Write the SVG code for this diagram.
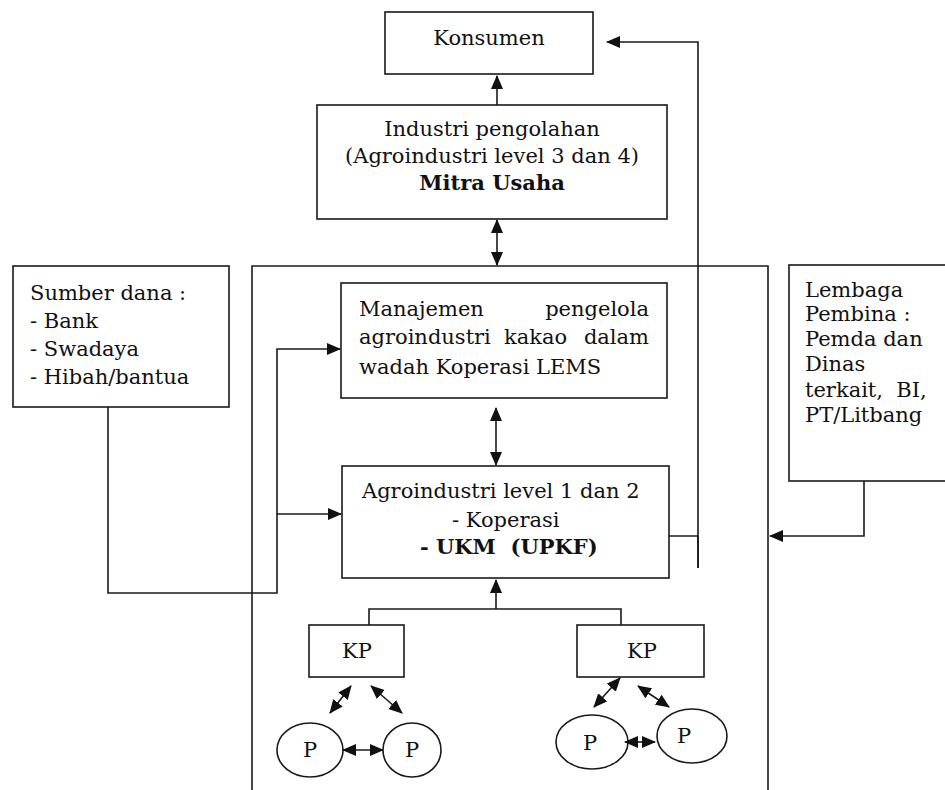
<svg xmlns="http://www.w3.org/2000/svg" width="945" height="790" viewBox="0 0 945 790">
<style>
.box{fill:#fff;stroke:#1a1a1a;stroke-width:1.6}
.ln{fill:none;stroke:#1a1a1a;stroke-width:1.6}
.t{font-family:"DejaVu Serif","Liberation Serif",serif;font-size:21px;fill:#111;white-space:pre}
.c{text-anchor:middle}
.b{font-weight:bold}
</style>
<defs>
<marker id="ah" markerUnits="userSpaceOnUse" markerWidth="14" markerHeight="14" viewBox="0 0 14 14" refX="13" refY="7" orient="auto-start-reverse">
<path d="M0,1 L14,7 L0,13 Z" fill="#111"/>
</marker>
</defs>
<rect width="945" height="790" fill="#fff"/>

<g id="container">
<path class="ln" d="M252,795 V266 H768 V795"/>
</g>

<g id="konsumen">
<rect class="box" x="385" y="12" width="208" height="62"/>
<text class="t c" x="489" y="45">Konsumen</text>
</g>

<g id="industri">
<rect class="box" x="317" y="105" width="350" height="114"/>
<text class="t c" x="492" y="136">Industri pengolahan</text>
<text class="t c" x="492" y="163">(Agroindustri level 3 dan 4)</text>
<text class="t c b" x="492" y="190">Mitra Usaha</text>
</g>

<g id="sumber">
<rect class="box" x="13" y="266" width="216" height="141"/>
<text class="t" x="30" y="300">Sumber dana :</text>
<text class="t" x="30" y="328">- Bank</text>
<text class="t" x="30" y="356">- Swadaya</text>
<text class="t" x="30" y="384">- Hibah/bantua</text>
</g>

<g id="manajemen">
<rect class="box" x="341" y="283" width="326" height="115"/>
<text class="t" x="359" y="316">Manajemen</text>
<text class="t" x="649" y="316" text-anchor="end">pengelola</text>
<text class="t" x="359" y="344">agroindustri</text>
<text class="t" x="504" y="344">kakao</text>
<text class="t" x="649" y="344" text-anchor="end">dalam</text>
<text class="t" x="359" y="374">wadah Koperasi LEMS</text>
</g>

<g id="lembaga">
<rect class="box" x="789" y="265" width="170" height="216"/>
<text class="t" x="805" y="297">Lembaga</text>
<text class="t" x="805" y="321">Pembina :</text>
<text class="t" x="805" y="346">Pemda dan</text>
<text class="t" x="805" y="371">Dinas</text>
<text class="t" x="805" y="397">terkait,  BI,</text>
<text class="t" x="805" y="422">PT/Litbang</text>
</g>

<g id="agro">
<rect class="box" x="342" y="466" width="327" height="112"/>
<text class="t" x="362" y="498">Agroindustri level 1 dan 2</text>
<text class="t" x="452" y="527">- Koperasi</text>
<text class="t b" x="420" y="554">- UKM  (UPKF)</text>
</g>

<g id="kp1">
<rect class="box" x="309" y="625" width="95" height="52"/>
<text class="t c" x="357" y="658">KP</text>
</g>
<g id="kp2">
<rect class="box" x="577" y="625" width="127" height="52"/>
<text class="t c" x="642" y="658">KP</text>
</g>

<g id="p1">
<ellipse class="box" cx="310" cy="750" rx="33" ry="27"/>
<text class="t c" x="310" y="757">P</text>
</g>
<g id="p2">
<ellipse class="box" cx="412" cy="750" rx="29" ry="27"/>
<text class="t c" x="412" y="757">P</text>
</g>
<g id="p3">
<ellipse class="box" cx="592" cy="742" rx="36" ry="27"/>
<text class="t c" x="590" y="750">P</text>
</g>
<g id="p4">
<ellipse class="box" cx="692" cy="736" rx="35" ry="27"/>
<text class="t c" x="684" y="743">P</text>
</g>

<g id="connectors">
<path class="ln" d="M497,105 V76" marker-end="url(#ah)"/>
<path class="ln" d="M497,220 V265" marker-start="url(#ah)" marker-end="url(#ah)"/>
<path class="ln" d="M496,408 V465" marker-start="url(#ah)" marker-end="url(#ah)"/>
<path class="ln" d="M669,536 H698 V568"/>
<path class="ln" d="M698,568 V42 H607" marker-end="url(#ah)"/>
<path class="ln" d="M108,407 V593 H277 V349 H340" marker-end="url(#ah)"/>
<path class="ln" d="M277,514 H341" marker-end="url(#ah)"/>
<path class="ln" d="M864,481 V536 H770" marker-end="url(#ah)"/>
<path class="ln" d="M369,625 V609 H621 V625"/>
<path class="ln" d="M496,609 V580" marker-end="url(#ah)"/>
<path class="ln" d="M330,713 L351,686" marker-start="url(#ah)" marker-end="url(#ah)"/>
<path class="ln" d="M371,686 L402,713" marker-start="url(#ah)" marker-end="url(#ah)"/>
<path class="ln" d="M343,750 H383" marker-start="url(#ah)" marker-end="url(#ah)"/>
<path class="ln" d="M594,707 L620,678" marker-start="url(#ah)" marker-end="url(#ah)"/>
<path class="ln" d="M638,686 L669,707" marker-start="url(#ah)" marker-end="url(#ah)"/>
<path class="ln" d="M625,742 H655" marker-start="url(#ah)" marker-end="url(#ah)"/>
</g>
</svg>
